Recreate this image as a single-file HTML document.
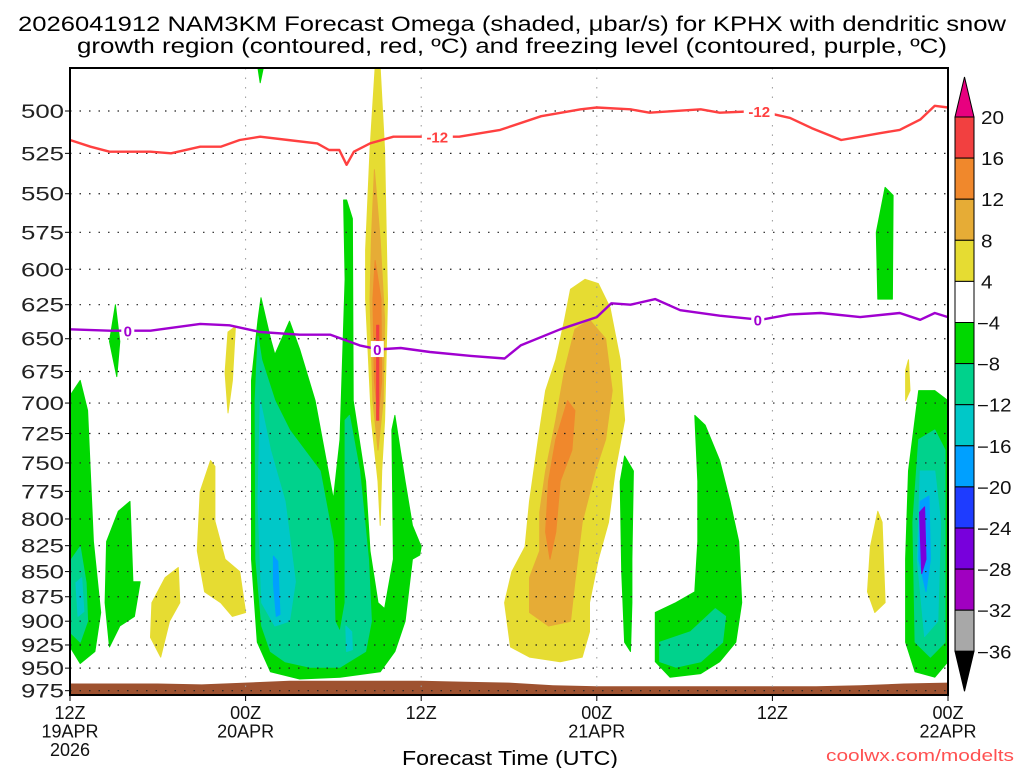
<!DOCTYPE html>
<html><head><meta charset="utf-8"><style>
html,body{margin:0;padding:0;background:#fff;}
svg{display:block;font-family:"Liberation Sans","DejaVu Sans",sans-serif;}
</style></head><body>
<svg id="chart" width="1024" height="768" viewBox="0 0 1024 768" xmlns="http://www.w3.org/2000/svg">
<rect x="0" y="0" width="1024" height="768" fill="#fff"/>
<text x="18" y="31" font-size="21" textLength="988" lengthAdjust="spacingAndGlyphs">2026041912 NAM3KM Forecast Omega (shaded, μbar/s) for KPHX with dendritic snow</text>
<text x="77" y="53" font-size="21" textLength="870" lengthAdjust="spacingAndGlyphs">growth region (contoured, red, ºC) and freezing level (contoured, purple, ºC)</text>
<g id="shade"></g>
<g id="ground"></g>
<g id="grid"></g>
<g id="lines"></g>
<rect x="70" y="68" width="878" height="627" fill="none" stroke="#000" stroke-width="2"/>
<g id="axes"></g>
<g id="cbar"></g>
<text x="510" y="765" font-size="20" text-anchor="middle" textLength="216" lengthAdjust="spacingAndGlyphs">Forecast Time (UTC)</text>
<text x="1014" y="761" font-size="17" fill="#ff5050" text-anchor="end" textLength="188" lengthAdjust="spacingAndGlyphs">coolwx.com/modelts</text>
</svg>
<script>
const pressureTicks=[500,525,550,575,600,625,650,675,700,725,750,775,800,825,850,875,900,925,950,975];
const timeTickHours=[0,12,24,36,48,60];
const timeTickLabels=[["12Z","19APR","2026"],["00Z","20APR"],["12Z"],["00Z","21APR"],["12Z"],["00Z","22APR"]];
const groundHours=[0,3,6,9,12,15,18,21,24,27,30,33,36,39,42,45,48,51,54,57,60];
const groundPressure=[967,967,967,968,966,964,964,964,964,965,966,969,970,970,970,970,970,970,969,967,966];
const snowHours=[0,1.4,2.7,5.5,6.9,8.9,10.3,11.6,13.0,14.9,16.9,17.7,18.4,18.9,19.4,20.5,22.1,23.8,26.6,29.4,32.2,34.9,36.0,38.3,39.6,43.1,44.4,47.1,49.2,50.7,52.7,54.0,55.3,56.7,58.1,59.1,60];
const snowPressure=[517,521,524,524,525,521,521,517,515,517,519,523,523,532,524,519,515,515,515,511,503,499,498,499,501,499,501,500,504,510,517,515,513,511,505,497,498];
const frzHours=[0,2.7,5.5,8.9,10.9,13.0,15.7,17.8,19.8,21.1,22.6,24.6,27.4,29.7,30.8,33.5,36.0,37.0,38.3,40.0,41.7,44.4,47.2,49.2,51.3,54.0,56.7,58.1,59.1,60];
const frzPressure=[643,644,644,639,640,645,647,647,655,658,657,660,663,665,655,643,634,624,625,621,629,633,636,632,631,634,631,636,631,634];
const cbarLevels=[20,16,12,8,4,-4,-8,-12,-16,-20,-24,-28,-32,-36];
const cbarColors=["#f24040","#f0882c","#e6ac36","#e6dc32","#ffffff","#00d800","#00d28c","#00c8c8","#00a0ff","#1e3cff","#7800dc","#a000c0","#a8a8a8"];
const blobColors=["#00d800","#00d28c","#00c8c8","#00a0ff","#1e3cff","#7800dc","#e6dc32","#e6ac36","#f0882c","#f24040"];
const blobLevels=["g","t","c","b","d","p","y","o","r","R"];
const blobs=[
["g",[[0,694],[0.7,682],[1.2,706],[1.6,821],[2.1,891],[1.7,932],[0.7,945],[0,927]]],
["t",[[0.1,838],[0.7,826],[1.1,861],[1.2,900],[0.7,922],[0.1,913]]],
["c",[[0.4,861],[0.8,856],[0.95,890],[0.55,895]]],
["g",[[2.5,821],[3.3,793],[4.1,784],[4.3,860],[4.8,860],[4.4,895],[3.4,905],[2.7,927],[2.4,881]]],
["g",[[3.1,625],[3.4,652],[3.2,679],[2.7,652]]],
["y",[[5.6,881],[6.5,856],[7.4,846],[7.5,881],[6.8,900],[6.2,938],[5.5,917]]],
["y",[[8.9,775],[9.6,748],[9.9,753],[9.9,802],[10.6,838],[11.6,850],[12.0,891],[11.1,895],[10.3,881],[9.2,870],[8.7,830]]],
["y",[[10.8,645],[11.3,641],[11.1,682],[10.8,708],[10.6,676]]],
["g",[[12.85,476],[13.2,476],[13.0,484]]],
["g",[[12.4,682],[12.85,636],[13.05,620],[13.7,650],[14.0,662],[15.0,637],[15.7,658],[16.75,698],[18.0,782],[18.45,730],[18.8,607],[18.7,554],[18.9,554],[19.3,566],[19.35,698],[20.2,766],[20.5,830],[21.05,881],[21.5,887],[22.1,838],[22.0,722],[22.2,710],[22.9,766],[23.4,806],[24.0,826],[23.9,834],[23.4,838],[22.9,900],[22.2,932],[21.2,954],[18.45,960],[15.7,962],[13.7,954],[12.8,922],[12.4,838]]],
["t",[[12.85,648],[13.1,666],[14.0,698],[15.0,722],[17.1,757],[18.0,821],[18.1,900],[18.45,911],[18.8,881],[18.8,714],[19.1,710],[19.8,757],[20.4,838],[20.6,900],[20.2,932],[18.45,949],[16.4,949],[14.7,943],[13.7,932],[13.1,905],[12.7,838],[12.65,698]]],
["c",[[13.0,698],[13.7,739],[14.7,784],[15.4,860],[15.0,900],[14.0,905],[13.1,881],[12.85,784]]],
["b",[[13.9,835],[14.2,840],[14.35,893],[14.1,895],[13.9,862]]],
["c",[[18.85,905],[19.25,911],[19.3,930],[18.9,932]]],
["y",[[20.85,476],[21.2,476],[21.5,523],[21.7,621],[21.5,714],[21.3,757],[21.2,806],[21.05,766],[20.6,714],[20.2,621],[20.2,587],[20.5,523]]],
["o",[[20.8,535],[21.2,580],[21.5,636],[21.4,698],[21.05,739],[20.7,698],[20.5,621],[20.6,580]]],
["r",[[20.85,594],[21.25,621],[21.3,682],[21.05,714],[20.8,682],[20.7,621]]],
["R",[[20.95,640],[21.1,640],[21.1,714],[20.95,714]]],
["y",[[34.2,614],[35.2,607],[36.1,610],[36.9,627],[37.6,666],[37.9,714],[37.25,757],[36.8,803],[36.1,838],[35.5,881],[35.5,911],[35.0,938],[33.5,943],[31.4,938],[30.1,927],[29.7,881],[30.2,850],[31.1,826],[31.4,784],[32.0,730],[32.5,690],[33.2,666],[33.8,636]]],
["o",[[34.5,643],[35.5,636],[36.6,650],[37.05,690],[36.6,730],[35.9,757],[35.0,803],[34.5,860],[34.2,900],[32.7,905],[31.4,891],[31.4,856],[32.1,830],[32.1,794],[32.5,757],[33.2,714],[33.8,674]]],
["r",[[34.0,698],[34.5,706],[34.3,739],[33.5,766],[33.2,812],[32.8,838],[32.5,812],[32.7,766],[33.2,730]]],
["g",[[37.9,744],[38.5,757],[38.4,838],[38.4,881],[38.3,932],[37.9,922],[37.7,850],[37.6,766]]],
["g",[[42.7,710],[43.4,718],[44.4,748],[45.1,784],[45.7,821],[45.9,881],[45.5,922],[44.4,943],[43.1,956],[41.0,960],[40.0,943],[40.0,891],[41.4,881],[42.7,870],[42.9,821],[42.9,766]]],
["t",[[40.3,922],[42.4,911],[44.1,887],[44.8,895],[44.6,922],[43.1,943],[41.4,949],[40.3,943]]],
["g",[[55.7,546],[56.25,551],[56.2,621],[55.2,621],[55.1,575]]],
["y",[[57.1,674],[57.3,666],[57.4,690],[57.1,698]]],
["y",[[55.2,793],[55.5,803],[55.7,881],[55.0,891],[54.5,870],[54.7,826]]],
["g",[[58.0,690],[59.1,690],[60,698],[60,943],[59.1,960],[57.75,954],[57.1,922],[57.1,838],[57.3,757]]],
["t",[[58.0,730],[59.1,722],[59.8,739],[59.8,922],[58.8,938],[57.75,922],[57.6,803]]],
["c",[[58.1,757],[59.1,757],[59.5,803],[59.3,900],[58.4,916],[57.9,838]]],
["b",[[58.1,784],[58.7,779],[58.8,838],[58.5,870],[58.0,838]]],
["p",[[58.05,794],[58.4,789],[58.5,838],[58.2,852]]]
];
const NS="http://www.w3.org/2000/svg";
const X0=70,X1=948,Y0=68,Y1=695;
function xs(h){return X0+(X1-X0)*h/60;}
function ys(p){return 111+868*Math.log(p/500);}
function mk(tag,attrs,parent){const e=document.createElementNS(NS,tag);for(const k in attrs)e.setAttribute(k,attrs[k]);parent.appendChild(e);return e;}
const shade=document.getElementById('shade');
blobs.forEach((b,i)=>{
  const col=blobColors[blobLevels.indexOf(b[0])];
  const pts=b[1].map(q=>xs(q[0]).toFixed(1)+","+ys(q[1]).toFixed(1)).join(" ");
  const e=mk('polygon',{points:pts,fill:col,stroke:col,'stroke-width':1,'stroke-linejoin':'round'},shade);
  
  
});
const gnd=document.getElementById('ground');
let gd="M"+xs(groundHours[0])+","+Y1;
groundHours.forEach((h,i)=>{gd+=" L"+xs(h).toFixed(1)+","+ys(groundPressure[i]).toFixed(1);});
gd+=" L"+xs(groundHours[groundHours.length-1])+","+Y1+" Z";
const ge=mk('path',{d:gd,fill:'#9e5230'},gnd);


const grid=document.getElementById('grid');
pressureTicks.forEach(p=>{
  const y=ys(p);
  const e=mk('line',{x1:X0,x2:X1,y1:y,y2:y,stroke:'#222','stroke-width':1.2,'stroke-dasharray':'1.5 8'},grid);
  
  
});
timeTickHours.slice(1,5).forEach(h=>{
  const x=xs(h);
  const e=mk('line',{x1:x,x2:x,y1:Y0,y2:Y1,stroke:'#999','stroke-width':1,'stroke-dasharray':'1.5 8'},grid);
  
  
});
const lines=document.getElementById('lines');
function drawLine(hs,ps,color,name){
  const d=hs.map((h,i)=>(i?"L":"M")+xs(h).toFixed(1)+","+ys(ps[i]).toFixed(1)).join(" ");
  const e=mk('path',{d:d,fill:'none',stroke:color,'stroke-width':2.4,'stroke-linejoin':'round'},lines);
  
  
}
drawLine(snowHours,snowPressure,'#ff4040','dgz-minus12-contour');
drawLine(frzHours,frzPressure,'#a000d0','freezing-level-contour');
function lineLabel(h,hs,ps,txt,color,name){
  let p=ps[0];for(let i=1;i<hs.length;i++){if(hs[i]>=h){const t=(h-hs[i-1])/(hs[i]-hs[i-1]);p=ps[i-1]+t*(ps[i]-ps[i-1]);break;}}
  const x=xs(h),y=ys(p);
  const w=txt.length*9+4;
  const r=mk('rect',{x:x-w/2,y:y-8,width:w,height:16,fill:'#fff'},lines);
  
  
  const t=mk('text',{x:x,y:y+6,'font-size':15,'font-weight':'bold',fill:color,'text-anchor':'middle'},lines);
  t.textContent=txt;
  
  
}
lineLabel(25.1,snowHours,snowPressure,'-12','#ff4040','dgz-label');
lineLabel(47.1,snowHours,snowPressure,'-12','#ff4040','dgz-label');
lineLabel(3.95,frzHours,frzPressure,'0','#a000d0','freezing-label');
lineLabel(21.0,frzHours,frzPressure,'0','#a000d0','freezing-label');
lineLabel(47.0,frzHours,frzPressure,'0','#a000d0','freezing-label');
const axes=document.getElementById('axes');
pressureTicks.forEach(p=>{
  const y=ys(p);
  const tk=mk('line',{x1:X0-5,x2:X0,y1:y,y2:y,stroke:'#000','stroke-width':1},axes);
  
  
  const t=mk('text',{x:X0-6,y:y+7,'font-size':19,'text-anchor':'end',fill:'#222',textLength:43,lengthAdjust:'spacingAndGlyphs'},axes);
  t.textContent=p;
  
  
});
timeTickHours.forEach((h,i)=>{
  const x=xs(h);
  const tk=mk('line',{x1:x,x2:x,y1:Y1,y2:Y1+6,stroke:'#000','stroke-width':1},axes);
  
  
  timeTickLabels[i].forEach((s,j)=>{
    const t=mk('text',{x:x,y:719+j*18.5,'font-size':18,'text-anchor':'middle',fill:'#111'},axes);
    t.textContent=s;
    
    
  });
});
const cb=document.getElementById('cbar');
const CX=955,CW=19,CT=117,BH=41.1;
const tri1=mk('polygon',{points:`${CX},${CT} ${CX+CW},${CT} ${CX+CW/2},${CT-40}`,fill:'#e8007f',stroke:'#000','stroke-width':1},cb);


cbarColors.forEach((c,i)=>{
  const r=mk('rect',{x:CX,y:CT+i*BH,width:CW,height:BH,fill:c,stroke:'#000','stroke-width':1},cb);
  
  
});
const CB=CT+cbarColors.length*BH;
const tri2=mk('polygon',{points:`${CX},${CB} ${CX+CW},${CB} ${CX+CW/2},${CB+40}`,fill:'#000',stroke:'#000','stroke-width':1},cb);


cbarLevels.forEach((v,i)=>{
  const s=v<0?"\u2212"+Math.abs(v):String(v);
  const t=mk('text',{x:v<0?977:981,y:CT+i*BH+7,'font-size':18,fill:'#111',textLength:s.length*11.5,lengthAdjust:'spacingAndGlyphs'},cb);
  t.textContent=s;
  
  
});
</script>
</body></html>
